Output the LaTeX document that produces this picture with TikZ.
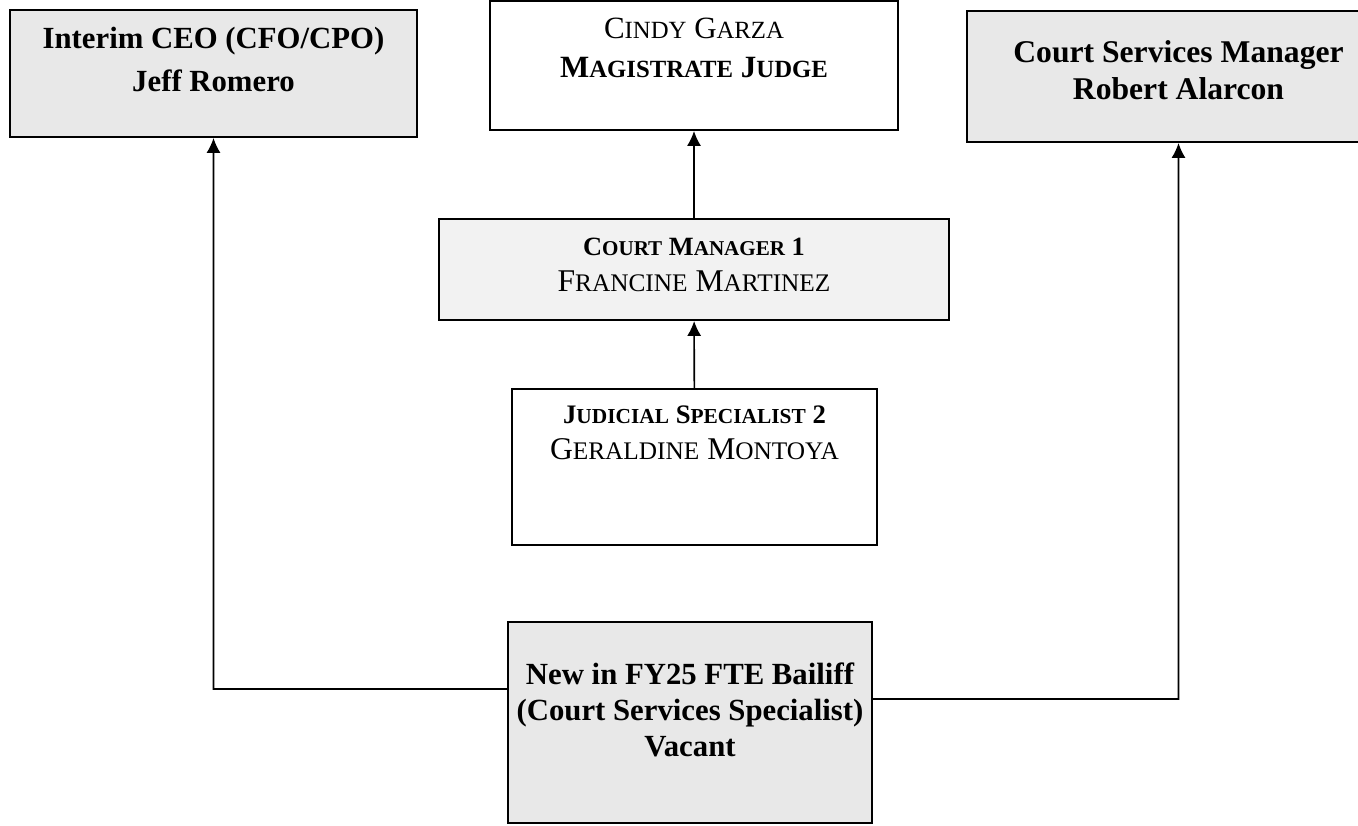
\documentclass[tikz,border=0pt]{standalone}
\usepackage{fontspec}
\setmainfont{Liberation Serif}
\usetikzlibrary{fit,arrows.meta}

\makeatletter
\newcommand\fakesc[1]{{\fontsize{\fpeval{0.8*\f@size}}{\f@baselineskip}\selectfont\MakeUppercase{#1}}}
\makeatother

\begin{document}
\begin{tikzpicture}[
        box/.style={draw, line width=1.1pt, inner sep=0pt},
        shade/.style={fill=gray!18},
        boxtext/.style={align=center, anchor=base, inner sep=0pt},
        link/.style={line width=0.9pt, -{Latex[length=8.5pt,width=8pt]}}
    ]
        \useasboundingbox (0,0) rectangle (27.16,-16.5);

        \node[box, shade, fit={(0.2,-0.2) (8.34,-2.74)}, label={[boxtext, yshift=-1.64cm, font=\fontsize{17.5}{24}\selectfont\bfseries]north:{Interim CEO (CFO/CPO)\\Jeff Romero}}] (ceo) {};
        \node[box, fit={(9.8,-0.02) (17.96,-2.6)}, label={[boxtext, yshift=-1.54cm, font=\fontsize{17.6}{22}\selectfont]north:{C\fakesc{indy} G\fakesc{arza}\\\textbf{M\fakesc{agistrate} J\fakesc{udge}}}}] (judge) {};
        \node[box, shade, fit={(19.34,-0.22) (27.8,-2.84)}, label={[boxtext, yshift=-1.78cm, font=\fontsize{18}{21}\selectfont\bfseries]north:{Court Services Manager\\Robert Alarcon}}] (csm) {};

        \node[box, fill=gray!10, fit={(8.78,-4.38) (18.98,-6.4)}, label={[boxtext, yshift=-1.46cm, font=\fontsize{15}{20.5}\selectfont]north:{\textbf{C\fakesc{ourt} M\fakesc{anager} 1}\\{\fontsize{18}{20.5}\selectfont F\fakesc{rancine} M\fakesc{artinez}}}}] (cm) {};
        \node[box, fit={(10.24,-7.78) (17.54,-10.9)}, label={[boxtext, yshift=-1.42cm, font=\fontsize{15.2}{20}\selectfont]north:{\textbf{J\fakesc{udicial} S\fakesc{pecialist} 2}\\{\fontsize{18}{20}\selectfont G\fakesc{eraldine} M\fakesc{ontoya}}}}] (js) {};

        \node[box, shade, fit={(10.16,-12.44) (17.44,-16.46)}, label={[boxtext, yshift=-2.7cm, font=\fontsize{17.5}{20.5}\selectfont\bfseries]north:{New in FY25 FTE Bailiff\\(Court Services Specialist)\\Vacant}}] (bailiff) {};

        \coordinate (lt) at (4.27,-13.78);
        \coordinate (rt) at (23.57,-13.98);

        \draw [link]    (js) -- (cm);
        \draw [link]    (cm) -- (judge);
        \draw [link]    (bailiff.west |- lt) -- (lt) -- (ceo);
        \draw [link]    (bailiff.east |- rt) -- (rt) -- (csm);
    \end{tikzpicture}
\end{document}
